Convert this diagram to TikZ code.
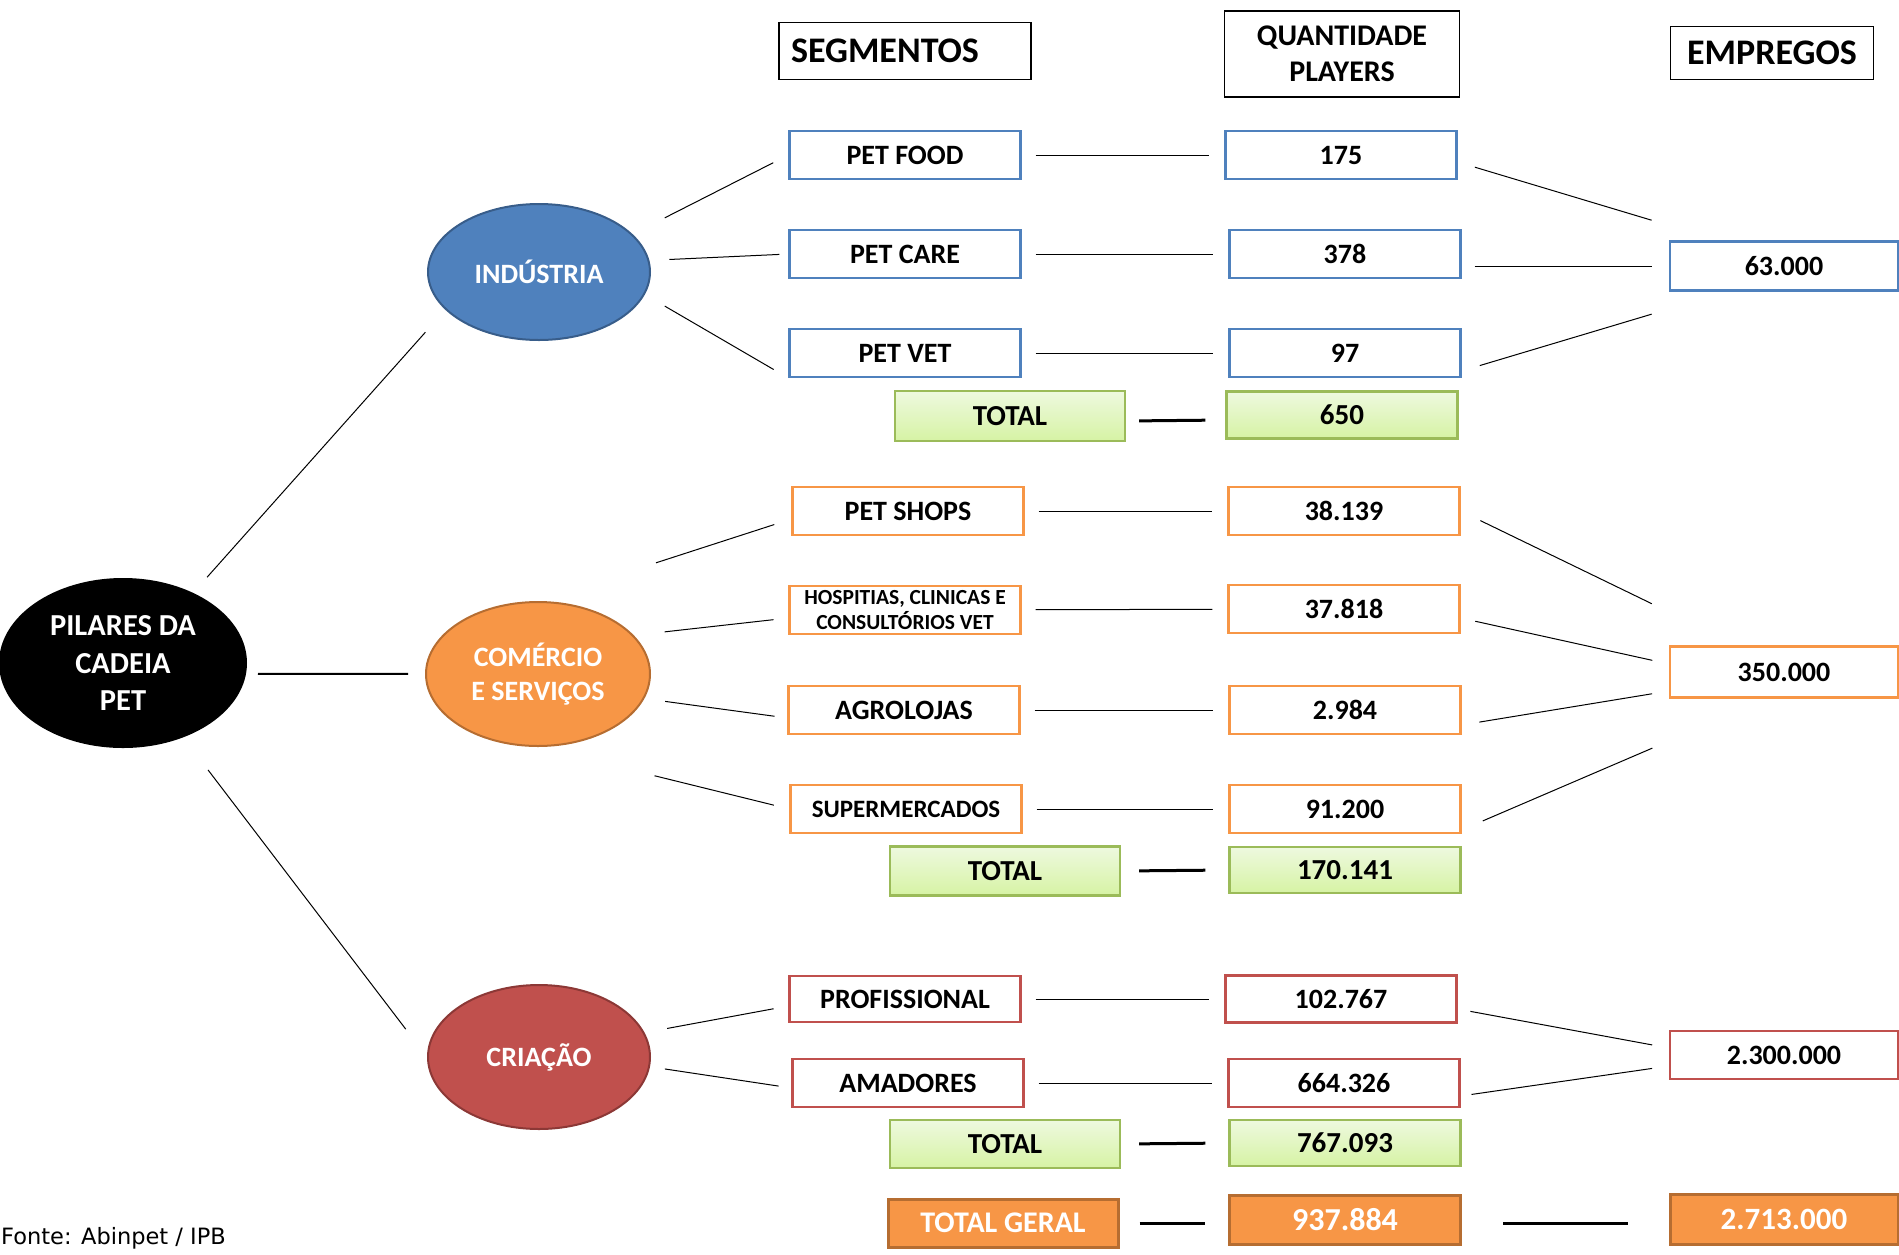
\documentclass[tikz,border=0pt]{standalone}
\usepackage{fontspec}
\setmainfont{Carlito}
\newfontfamily\fontefont{DejaVu Sans}
\usetikzlibrary{shapes.geometric}
\definecolor{indblue}{HTML}{4F81BD}
\definecolor{indedge}{HTML}{385D8A}
\definecolor{comorange}{HTML}{F79646}
\definecolor{comedge}{HTML}{B66D31}
\definecolor{crired}{HTML}{C0504D}
\definecolor{criedge}{HTML}{8C3836}
\definecolor{totedge}{HTML}{9BBB59}
\definecolor{tottop}{HTML}{EEF9DF}
\definecolor{totbottom}{HTML}{D6F3A4}

\begin{document}
\begin{tikzpicture}[x=1pt, y=-1pt,
  head/.style={draw, line width=1.5pt, inner sep=0pt, align=center, font=\fontsize{36}{40}\selectfont\bfseries},
  pillar/.style={ellipse, line width=2pt, inner sep=0pt, align=center, text=white, font=\fontsize{28}{34}\selectfont\bfseries},
  box/.style={draw, rectangle, line width=2.2pt, fill=white, minimum width=231pt, minimum height=48pt, inner sep=0pt, align=center, font=\fontsize{28}{32}\selectfont\bfseries},
  bluebox/.style={box, draw=indblue},
  orangebox/.style={box, draw=comorange},
  redbox/.style={box, draw=crired},
  totbox/.style={box, draw=totedge, top color=tottop, bottom color=totbottom, font=\fontsize{29}{32}\selectfont\bfseries},
  geralbox/.style={box, draw=comedge, line width=3pt, fill=comorange, text=white, font=\fontsize{30}{32}\selectfont\bfseries},
  link/.style={draw, line width=1pt},
  seglink/.style={link, shorten <=14pt, shorten >=15pt},
  totlink/.style={draw, line width=3pt}
]
\useasboundingbox (0, 0) rectangle (1899, 1254);

\node [head, minimum width=252pt, minimum height=57pt, text width=228pt, align=left] (hseg) at (905, 51) {SEGMENTOS};
\node [head, minimum width=235pt, minimum height=86pt, font=\fontsize{30}{36}\selectfont\bfseries] (hqty) at (1342, 54) {QUANTIDADE\\PLAYERS};
\node [head, minimum width=203pt, minimum height=53pt] (hemp) at (1772, 53) {EMPREGOS};

\node [pillar, draw=black, fill=black, minimum width=246pt, minimum height=168pt, font=\fontsize{30.5}{37.5}\selectfont\bfseries] (pilar) at (123, 663) {PILARES DA\\CADEIA\\PET};
\node [pillar, draw=indedge, fill=indblue, minimum width=222pt, minimum height=136pt] (indus) at (539, 272) {INDÚSTRIA};
\node [pillar, draw=comedge, fill=comorange, minimum width=224pt, minimum height=144pt] (comercio) at (538, 674) {COMÉRCIO\\E SERVIÇOS};
\node [pillar, draw=criedge, fill=crired, minimum width=222pt, minimum height=144pt] (criacao) at (539, 1057) {CRIAÇÃO};

\node [bluebox] (petfood) at (905, 155) {PET FOOD};
\node [bluebox] (petcare) at (905, 254) {PET CARE};
\node [bluebox] (petvet) at (905, 353) {PET VET};
\node [totbox, minimum width=230pt, minimum height=50pt] (tot1) at (1010, 416) {TOTAL};
\node [orangebox] (petshops) at (908, 511) {PET SHOPS};
\node [orangebox, font=\fontsize{21.5}{25}\selectfont\bfseries] (hosp) at (905, 610) {HOSPITIAS, CLINICAS E\\CONSULTÓRIOS VET};
\node [orangebox] (agro) at (904, 710) {AGROLOJAS};
\node [orangebox, font=\fontsize{25}{30}\selectfont\bfseries] (super) at (906, 809) {SUPERMERCADOS};
\node [totbox, minimum width=230pt, minimum height=49pt] (tot2) at (1005, 871) {TOTAL};
\node [redbox, minimum height=46pt] (prof) at (905, 999) {PROFISSIONAL};
\node [redbox] (amad) at (908, 1083) {AMADORES};
\node [totbox, minimum width=230pt] (tot3) at (1005, 1144) {TOTAL};
\node [geralbox, minimum width=230pt] (geral) at (1003, 1223) {TOTAL GERAL};

\node [bluebox] (q175) at (1341, 155) {175};
\node [bluebox] (q378) at (1345, 254) {378};
\node [bluebox] (q97) at (1345, 353) {97};
\node [totbox, minimum height=47pt] (q650) at (1342, 415) {650};
\node [orangebox] (q38139) at (1344, 511) {38.139};
\node [orangebox] (q37818) at (1344, 609) {37.818};
\node [orangebox] (q2984) at (1345, 710) {2.984};
\node [orangebox] (q91200) at (1345, 809) {91.200};
\node [totbox, minimum height=46pt] (q170141) at (1345, 870) {170.141};
\node [redbox, minimum height=47pt] (q102767) at (1341, 999) {102.767};
\node [redbox] (q664326) at (1344, 1083) {664.326};
\node [totbox, minimum height=46pt] (q767093) at (1345, 1143) {767.093};
\node [geralbox, minimum height=49pt, font=\fontsize{32}{34}\selectfont\bfseries] (q937884) at (1345, 1220) {937.884};

\node [bluebox, minimum width=228pt, minimum height=49pt] (e63) at (1784, 266) {63.000};
\node [orangebox, minimum width=228pt, minimum height=51pt] (e350) at (1784, 672) {350.000};
\node [redbox, minimum width=228pt] (e2300) at (1784, 1055) {2.300.000};
\node [geralbox, minimum width=228pt, minimum height=50pt, font=\fontsize{31}{34}\selectfont\bfseries] (e2713) at (1784, 1219) {2.713.000};

\node [anchor=base west, inner sep=0pt, font=\fontefont\fontsize{22.5}{26}\selectfont] (fonte) at (1, 1244) {Fonte: Abinpet / IPB};

\draw [link, shorten <=21pt, shorten >=30pt] (pilar.45) -- (indus.202);
\draw [totlink, line width=2pt, shorten <=12pt, shorten >=17pt] (pilar.-5) -- (comercio.west);
\draw [link, shorten <=41pt, shorten >=35pt] (pilar.-51) -- (criacao.west);

\draw [link, shorten <=36pt, shorten >=17pt] (indus.22) -- (petfood.west);
\draw [link, shorten <=20pt, shorten >=9pt] (indus.6) -- (petcare.west);
\draw [link, shorten <=23pt, shorten >=17pt] (indus.-12) -- (petvet.south west);

\draw [link, shorten <=124pt, shorten >=18pt] (comercio.north) -- ([yshift=-8pt]petshops.west);
\draw [link, shorten <=31pt, shorten >=15pt] (comercio.22) -- ([yshift=-8pt]hosp.west);
\draw [link, shorten <=21pt, shorten >=13pt] (comercio.-13) -- ([yshift=-8pt]agro.west);
\draw [link, shorten <=120pt, shorten >=16pt] (comercio.south) -- (super.west);

\draw [link, shorten <=23pt, shorten >=15pt] (criacao.13) -- ([yshift=-7pt]prof.west);
\draw [link, shorten <=15pt, shorten >=13pt] (criacao.-5) -- ([yshift=-5pt]amad.west);

\draw [seglink] (petfood) -- (q175);
\draw [seglink] (petcare) -- (q378);
\draw [seglink] (petvet) -- (q97);
\draw [seglink] (petshops) -- (q38139);
\draw [seglink] (hosp) -- (q37818);
\draw [seglink] (agro) -- (q2984);
\draw [seglink] (super) -- (q91200);
\draw [seglink] (prof) -- (q102767);
\draw [seglink] (amad) -- (q664326);

\draw [totlink, shorten <=13pt, shorten >=20pt] ([yshift=-5pt]tot1.east) -- ([yshift=-5pt]q650.west);
\draw [totlink, shorten <=18pt, shorten >=23pt] (tot2.east) -- (q170141.west);
\draw [totlink, shorten <=18pt, shorten >=23pt] (tot3.east) -- (q767093.west);
\draw [totlink, shorten <=20pt, shorten >=23pt] (geral.east) -- ([yshift=-3pt]q937884.west);
\draw [totlink, shorten <=41pt, shorten >=41pt] ([yshift=-3pt]q937884.east) -- ([yshift=-4pt]e2713.west);

\draw [link, shorten <=18pt, shorten >=18pt] ([yshift=-7pt]q175.east) -- ([yshift=15pt]e63.north west);
\draw [link, shorten <=13pt, shorten >=17pt] ([yshift=-12pt]q378.east) -- (e63.west);
\draw [link, shorten <=19pt, shorten >=18pt] ([yshift=-18pt]q97.east) -- ([yshift=-43pt]e63.west);

\draw [link, shorten <=22pt, shorten >=19pt] (q38139.east) -- ([yshift=60pt]e350.west);
\draw [link, shorten <=15pt, shorten >=17pt] ([yshift=-9pt]q37818.east) -- ([yshift=8pt]e350.west);
\draw [link, shorten <=18pt, shorten >=17pt] ([yshift=-15pt]q2984.east) -- ([yshift=-19pt]e350.west);
\draw [link, shorten <=23pt, shorten >=18pt] ([yshift=-21pt]q91200.east) -- ([yshift=-69pt]e350.west);

\draw [link, shorten <=13pt, shorten >=17pt] ([yshift=-10pt]q102767.east) -- ([yshift=7pt]e2300.west);
\draw [link, shorten <=11pt, shorten >=17pt] ([yshift=-13pt]q664326.east) -- ([yshift=-11pt]e2300.west);
\end{tikzpicture}
\end{document}
